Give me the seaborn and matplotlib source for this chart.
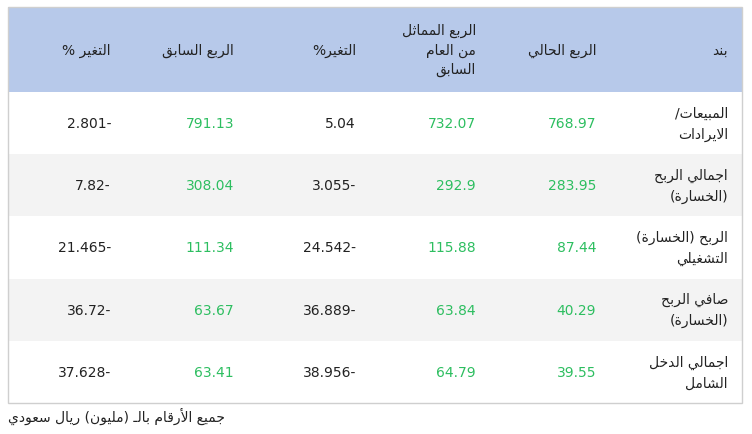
import re
import matplotlib
matplotlib.use("Agg")
import matplotlib.pyplot as plt
import seaborn as sns

# ---------------- data ----------------
headers = ["بند", "الربع الحالي", "الربع المماثل\nمن العام\nالسابق", "التغير%", "الربع السابق", "التغير %"]
items = ["المبيعات/\nالايرادات", "اجمالي الربح\n(الخسارة)", "الربح (الخسارة)\nالتشغيلي", "صافي الربح\n(الخسارة)", "اجمالي الدخل\nالشامل"]
current_q = ["768.97", "283.95", "87.44", "40.29", "39.55"]
same_q_last_year = ["732.07", "292.9", "115.88", "63.84", "64.79"]
change_yoy = ["5.04", "3.055-", "24.542-", "36.889-", "38.956-"]
previous_q = ["791.13", "308.04", "111.34", "63.67", "63.41"]
change_qoq = ["2.801-", "7.82-", "21.465-", "36.72-", "37.628-"]
note = "جميع الأرقام بالـ (مليون) ريال سعودي"

# ---------------- minimal Arabic shaping ----------------
F = {}
def _d(ch, base): F[ch] = (base, base + 1, base + 2, base + 3)
def _r(ch, base): F[ch] = (base, base + 1)
for ch, b in [("ب",0xFE8F),("ت",0xFE95),("ث",0xFE99),("ج",0xFE9D),("ح",0xFEA1),("خ",0xFEA5),
              ("س",0xFEB1),("ش",0xFEB5),("ص",0xFEB9),("ض",0xFEBD),("ط",0xFEC1),("ظ",0xFEC5),
              ("ع",0xFEC9),("غ",0xFECD),("ف",0xFED1),("ق",0xFED5),("ك",0xFED9),("ل",0xFEDD),
              ("م",0xFEE1),("ن",0xFEE5),("ه",0xFEE9),("ي",0xFEF1),("ئ",0xFE89)]:
    _d(ch, b)
for ch, b in [("آ",0xFE81),("أ",0xFE83),("ؤ",0xFE85),("إ",0xFE87),("ا",0xFE8D),("ة",0xFE93),
              ("د",0xFEA9),("ذ",0xFEAB),("ر",0xFEAD),("ز",0xFEAF),("و",0xFEED),("ى",0xFEEF)]:
    _r(ch, b)
LAM_ALEF = {"آ": 0xFEF5, "أ": 0xFEF7, "إ": 0xFEF9, "ا": 0xFEFB}
TATWEEL = "ـ"

def joins_next(c):
    return c == TATWEEL or (c in F and len(F[c]) == 4)

def is_ar(c):
    return c in F or c == TATWEEL

def shape(s):
    out = []
    i = 0
    n = len(s)
    while i < n:
        c = s[i]
        prev = s[i - 1] if i > 0 else ""
        pj = joins_next(prev) if prev else False
        if c == "ل" and i + 1 < n and s[i + 1] in LAM_ALEF:
            out.append(chr(LAM_ALEF[s[i + 1]] + (1 if pj else 0)))
            i += 2
            continue
        if c in F:
            f = F[c]
            nxt = s[i + 1] if i + 1 < n else ""
            nj = len(f) == 4 and nxt != "" and is_ar(nxt)
            if len(f) == 4:
                idx = {(False, False): 0, (True, False): 1, (False, True): 2, (True, True): 3}[(pj, nj)]
            else:
                idx = 1 if pj else 0
            out.append(chr(f[idx]))
        else:
            out.append(c)
        i += 1
    return "".join(out)

MIRROR = {"(": ")", ")": "("}
def vis(s):
    if not re.search("[\u0600-\u06FF]", s):
        return s
    sh = shape(s)
    rev = "".join(MIRROR.get(c, c) for c in sh[::-1])
    return re.sub(r"[0-9.]+", lambda m: m.group(0)[::-1], rev)

def vis_lines(s):
    return "\n".join(vis(l) for l in s.split("\n"))

# ---------------- draw ----------------
sns.set_style("white")
plt.rcParams["font.family"] = ["DejaVu Sans"]

fig = plt.figure(figsize=(7.52, 4.35), dpi=100)
ax = fig.add_axes([0, 0, 1, 1])
ax.set_xlim(0, 752)
ax.set_ylim(435, 0)
ax.axis("off")

col_edges = [742, 610, 490, 370, 248, 125, 8]  # right-to-left
top, head_bot = 8, 93
row_h = 62.2
green = "#2dbe60"
dark = "#222222"

ax.add_patch(plt.Rectangle((8, top), 734, head_bot - top, color="#b7c9ea", lw=0))
for r in range(len(items)):
    y0 = head_bot + r * row_h
    ax.add_patch(plt.Rectangle((8, y0), 734, row_h, color="#f3f3f3" if r % 2 else "white", lw=0))
bottom = head_bot + len(items) * row_h
ax.add_patch(plt.Rectangle((8, top), 734, bottom - top, fill=False, ec="#cfcfcf", lw=1))

for j, h in enumerate(headers):
    ax.text(col_edges[j] - 14, (top + head_bot) / 2, vis_lines(h), ha="right", va="center",
            fontsize=10, color=dark, multialignment="right", linespacing=1.5)

columns = [items, current_q, same_q_last_year, change_yoy, previous_q, change_qoq]
colors = [dark, green, green, dark, green, dark]
for j, col in enumerate(columns):
    for r, v in enumerate(col):
        yc = head_bot + (r + 0.5) * row_h
        ax.text(col_edges[j] - 14, yc, vis_lines(v), ha="right", va="center", fontsize=10,
                color=colors[j], multialignment="right", linespacing=1.6)

ax.text(8, 416, vis(note), ha="left", va="center", fontsize=10, color=dark)

fig.savefig("out.png", dpi=100)
